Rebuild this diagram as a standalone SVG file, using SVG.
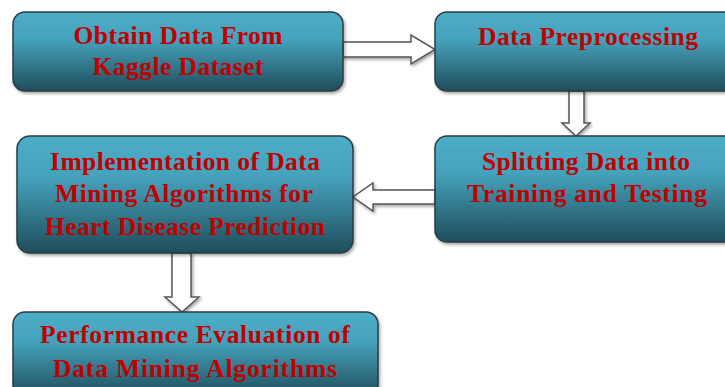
<svg xmlns="http://www.w3.org/2000/svg" width="725" height="387" viewBox="0 0 725 387">
<defs>
<linearGradient id="g" x1="0" y1="0" x2="0" y2="1">
<stop offset="0" stop-color="#4dadc8"/>
<stop offset="0.35" stop-color="#45a2bc"/>
<stop offset="1" stop-color="#1f4d5b"/>
</linearGradient>
<filter id="sh" x="-5%" y="-5%" width="115%" height="120%">
<feDropShadow dx="1.5" dy="2" stdDeviation="1.5" flood-color="#000" flood-opacity="0.35"/>
</filter>
</defs>
<style>
.box{fill:url(#g);stroke:#2b3a40;stroke-width:1.5;filter:url(#sh)}
.t{font-family:"Liberation Serif","Times New Roman",serif;font-weight:bold;font-size:25.5px;fill:#c00000;text-anchor:middle}
.arr{fill:#ffffff;stroke:#555555;stroke-width:1.5;stroke-linejoin:miter;filter:url(#sh)}
</style>
<rect width="725" height="387" fill="#ffffff"/>
<g id="connectors">
<polygon class="arr" points="343,42 411,42 411,35 435,49.5 411,64 411,57 343,57"/>
<polygon class="arr" points="569,91 584,91 584,123 590,123 576,136 562,123 569,123"/>
<polygon class="arr" points="435,190 373,190 373,183 353,197 373,211 373,204 435,204"/>
<polygon class="arr" points="172,253 191,253 191,297 199,297 182,312 165,297 172,297"/>
</g>
<g id="n1">
<rect class="box" x="13" y="12" width="330" height="79" rx="12"/>
<text class="t" x="178" y="44" textLength="209">Obtain Data From</text>
<text class="t" x="178" y="75" textLength="171">Kaggle Dataset</text>
</g>
<g id="n2">
<rect class="box" x="435" y="12" width="306" height="79" rx="12"/>
<text class="t" x="588" y="45" textLength="220">Data Preprocessing</text>
</g>
<g id="n3">
<rect class="box" x="435" y="136" width="306" height="106" rx="12"/>
<text class="t" x="586" y="170" textLength="208">Splitting Data into</text>
<text class="t" x="587" y="202" textLength="240">Training and Testing</text>
</g>
<g id="n4">
<rect class="box" x="17" y="136" width="336" height="117" rx="13"/>
<text class="t" x="185" y="170" textLength="270">Implementation of Data</text>
<text class="t" x="184" y="202" textLength="258">Mining Algorithms for</text>
<text class="t" x="185" y="235" textLength="280">Heart Disease Prediction</text>
</g>
<g id="n5">
<rect class="box" x="13" y="312" width="365" height="85" rx="12"/>
<text class="t" x="195" y="343" textLength="310">Performance Evaluation of</text>
<text class="t" x="195" y="377" textLength="284">Data Mining  Algorithms</text>
</g>
</svg>
